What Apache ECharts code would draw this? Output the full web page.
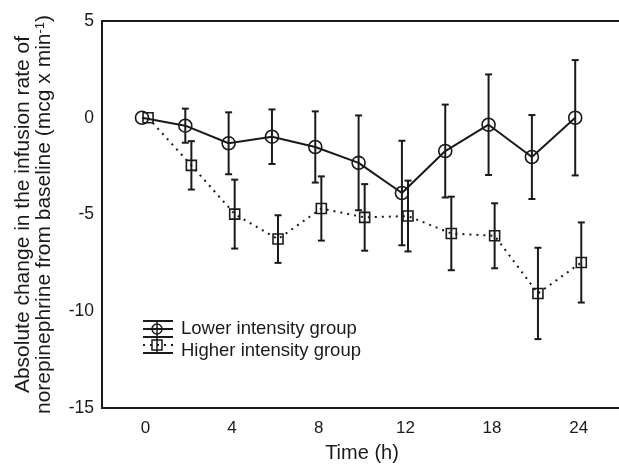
<!DOCTYPE html>
<html>
<head>
<meta charset="utf-8">
<script src="https://cdn.jsdelivr.net/npm/echarts@6/dist/echarts.min.js"></script>
<style>html,body{margin:0;padding:0;background:#fff;}#c{width:619px;height:465px;}</style>
</head>
<body>
<div id="c"></div>
<script>
// Time points (h), equally spaced on the axis
var hours = ["0", "2", "4", "6", "8", "10", "12", "15", "18", "21", "24"];
var tickHours = ["0", "4", "8", "12", "18", "24"];
var lowerMean = [0, -0.41, -1.32, -0.98, -1.51, -2.33, -3.89, -1.72, -0.36, -2.03, 0.0];
var lowerErr  = [0, 0.88, 1.60, 1.41, 1.84, 2.45, 2.70, 2.40, 2.60, 2.17, 2.98];
var higherMean = [0, -2.46, -4.98, -6.27, -4.69, -5.15, -5.08, -5.98, -6.10, -9.08, -7.48];
var higherErr  = [0, 1.25, 1.78, 1.23, 1.66, 1.72, 1.83, 1.90, 1.68, 2.36, 2.07];
var seriesNames = ["Lower intensity group", "Higher intensity group"];

var dodge = 0.14;
var lowerPts = lowerMean.map(function (v, i) { return [i, v]; });
var higherPts = higherMean.map(function (v, i) { return [i + dodge, v]; });
var lowerBars = lowerMean.map(function (v, i) { return [i, v, lowerErr[i]]; });
var higherBars = higherMean.map(function (v, i) { return [i + dodge, v, higherErr[i]]; });
var labelPos = tickHours.map(function (h) { return hours.indexOf(h) + 0.08; });

var FONT = '"Liberation Sans", Arial, sans-serif';
var INK = '#1a1a1a';

function errRender(params, api) {
  var x = api.value(0), m = api.value(1), e = api.value(2);
  if (!e) return null;
  var t = api.coord([x, m + e]);
  var b = api.coord([x, m - e]);
  var st = { stroke: INK, lineWidth: 2 };
  var hc = 3.5;
  return {
    type: 'group',
    children: [
      { type: 'line', shape: { x1: t[0], y1: t[1], x2: b[0], y2: b[1] }, style: st },
      { type: 'line', shape: { x1: t[0] - hc, y1: t[1], x2: t[0] + hc, y2: t[1] }, style: st },
      { type: 'line', shape: { x1: b[0] - hc, y1: b[1], x2: b[0] + hc, y2: b[1] }, style: st }
    ]
  };
}

var chart = echarts.init(document.getElementById('c'), null, { renderer: 'canvas' });

var lx1 = 143, lx2 = 173, lxc = 157;
var capStyle = { stroke: INK, lineWidth: 2 };

chart.setOption({
  animation: false,
  backgroundColor: '#fff',
  grid: { left: 102, top: 21, right: -3, bottom: 57, show: true, borderColor: INK, borderWidth: 2, containLabel: false, outerBoundsMode: 'none' },
  xAxis: {
    type: 'value',
    min: -0.923, max: 11.08,
    splitLine: { show: false },
    axisLine: { show: false },
    axisTick: { show: false },
    axisLabel: {
      customValues: labelPos,
      margin: 12,
      fontFamily: FONT, fontSize: 17, color: INK,
      formatter: function (v) {
        var idx = Math.round(v - 0.08);
        return hours[idx];
      }
    },
    name: 'Time (h)',
    nameLocation: 'middle',
    nameGap: 35,
    nameTextStyle: { fontFamily: FONT, fontSize: 20, color: INK }
  },
  yAxis: {
    type: 'value',
    min: -15, max: 5, interval: 5,
    splitLine: { show: false },
    axisLine: { show: false },
    axisTick: { show: false },
    axisLabel: { fontFamily: FONT, fontSize: 17.5, color: INK, margin: 8 },
    name: '{n|Absolute change in the infusion rate of}\n{n|norepinephrine from baseline (mcg x min}{s|-1}{n|)}',
    nameLocation: 'middle',
    nameRotate: 90,
    nameGap: 47,
    nameTextStyle: {
      fontFamily: FONT, fontSize: 21, color: INK, lineHeight: 21,
      rich: {
        n: { fontFamily: FONT, fontSize: 21, color: INK, lineHeight: 21 },
        s: { fontFamily: FONT, fontSize: 13, color: INK, lineHeight: 21, verticalAlign: 'top', padding: [0, 0, 9, 0] }
      }
    }
  },
  series: [
    { type: 'custom', name: seriesNames[0] + ' err', renderItem: errRender, data: lowerBars, z: 2 },
    { type: 'custom', name: seriesNames[1] + ' err', renderItem: errRender, data: higherBars, z: 2 },
    {
      type: 'line', name: seriesNames[0], data: lowerPts, z: 3,
      symbol: 'circle', symbolSize: 13,
      lineStyle: { color: INK, width: 2 },
      itemStyle: { color: 'rgba(0,0,0,0)', borderColor: INK, borderWidth: 1.6 }
    },
    {
      type: 'line', name: seriesNames[1], data: higherPts, z: 3,
      symbol: 'rect', symbolSize: 10,
      lineStyle: { color: INK, width: 2, type: [2, 5] },
      itemStyle: { color: 'rgba(0,0,0,0)', borderColor: INK, borderWidth: 1.6 }
    }
  ],
  graphic: [
    { type: 'line', shape: { x1: lx1, y1: 321, x2: lx2, y2: 321 }, style: capStyle },
    { type: 'line', shape: { x1: lx1, y1: 337, x2: lx2, y2: 337 }, style: capStyle },
    { type: 'line', shape: { x1: lx1, y1: 353, x2: lx2, y2: 353 }, style: capStyle },
    { type: 'line', shape: { x1: lxc, y1: 321, x2: lxc, y2: 353 }, style: { stroke: INK, lineWidth: 1.5 } },
    { type: 'line', shape: { x1: lx1, y1: 329, x2: lx2, y2: 329 }, style: { stroke: INK, lineWidth: 2 } },
    { type: 'circle', shape: { cx: lxc, cy: 329, r: 5 }, style: { fill: 'rgba(0,0,0,0)', stroke: INK, lineWidth: 1.5 } },
    { type: 'line', shape: { x1: lx1, y1: 345, x2: lx2, y2: 345 }, style: { stroke: INK, lineWidth: 2, lineDash: [2, 5] } },
    { type: 'rect', shape: { x: lxc - 5, y: 340, width: 10, height: 10 }, style: { fill: 'rgba(0,0,0,0)', stroke: INK, lineWidth: 1.5 } },
    { type: 'text', x: 181, y: 329, style: { text: seriesNames[0], fontFamily: FONT, fontSize: 18.5, fill: INK, verticalAlign: 'middle' } },
    { type: 'text', x: 181, y: 351, style: { text: seriesNames[1], fontFamily: FONT, fontSize: 18.5, fill: INK, verticalAlign: 'middle' } }
  ]
});
</script>
</body>
</html>
